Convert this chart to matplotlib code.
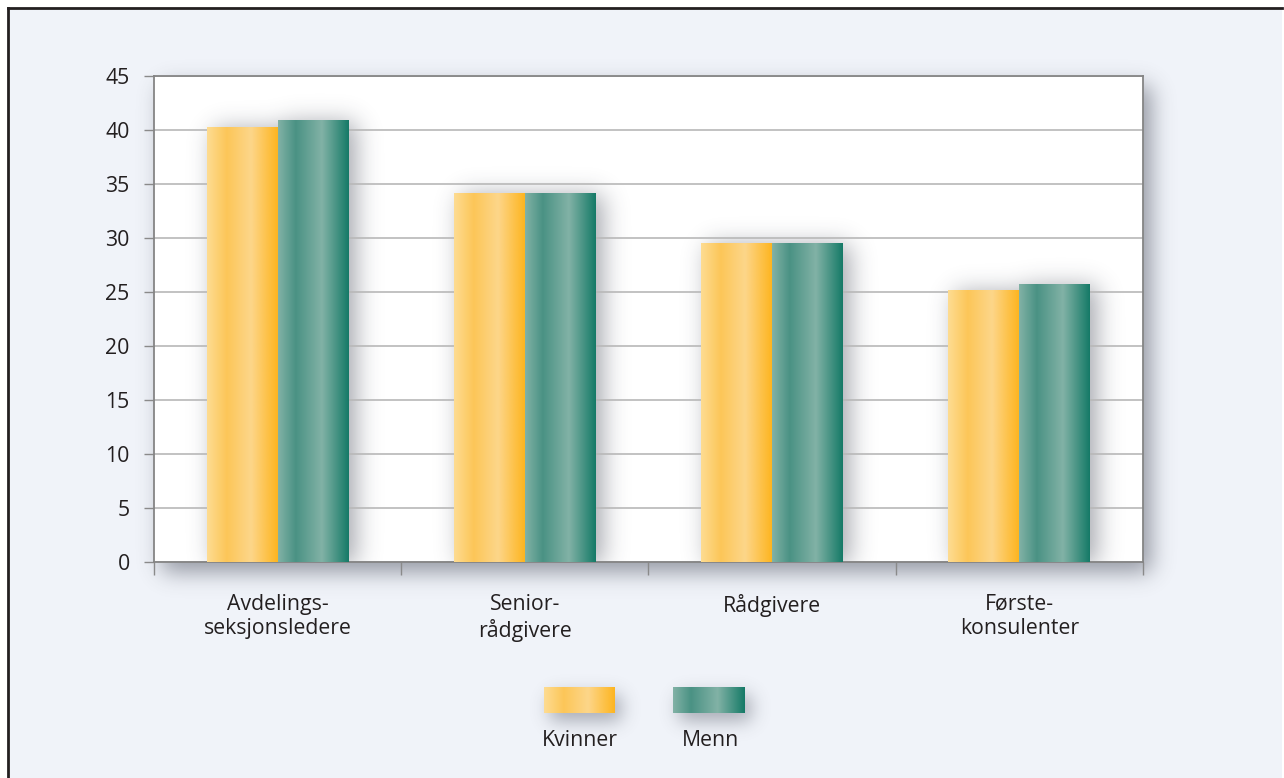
import numpy as np
import matplotlib
matplotlib.use('Agg')
import matplotlib.pyplot as plt
from matplotlib.colors import LinearSegmentedColormap
from matplotlib.patches import Rectangle

# ---------------- data ----------------
categories = ['Avdelings-\nseksjonsledere', 'Senior-\nrådgivere', 'Rådgivere', 'Første-\nkonsulenter']
kvinner = [40.3, 34.2, 29.5, 25.2]
menn = [40.9, 34.2, 29.5, 25.7]
series_names = ['Kvinner', 'Menn']
yticks = [0, 5, 10, 15, 20, 25, 30, 35, 40, 45]

# ---------------- style ----------------
plt.rcParams['font.family'] = ['Open Sans', 'DejaVu Sans']
TEXT = '#231f20'
BG = '#f0f3f9'
FS = 15.3
yellow_stops = [(0.0, '#fedc92'), (0.28, '#fcc658'), (0.62, '#fdd68a'), (1.0, '#fdb520')]
green_stops = [(0.0, '#82b2a6'), (0.25, '#4a9284'), (0.62, '#82b2a6'), (1.0, '#157a67')]
cmap_y = LinearSegmentedColormap.from_list('yel', yellow_stops)
cmap_g = LinearSegmentedColormap.from_list('grn', green_stops)
grad = np.linspace(0, 1, 256)[None, :]

W, H, DPI = 1284, 778, 100
fig = plt.figure(figsize=(W / DPI, H / DPI), dpi=DPI, facecolor='white')

# background axes in pixel coordinates
bg = fig.add_axes([0, 0, 1, 1], zorder=-10)
bg.set_xlim(0, W)
bg.set_ylim(H, 0)
bg.axis('off')
bg.add_patch(Rectangle((7.5, 7.5), 1282 - 7.5, H, facecolor=BG, edgecolor='none', zorder=0))
bg.plot([7.5, 7.5], [H + 5, 7.5], color='#231f20', lw=2.0, solid_capstyle='projecting', zorder=1)
bg.plot([7.5, 1282], [7.5, 7.5], color='#231f20', lw=2.0, solid_capstyle='projecting', zorder=1)

# main axes
L, R, T, B = 154, 1143, 76, 562
ax = fig.add_axes([L / W, 1 - B / H, (R - L) / W, (B - T) / H], zorder=1)
ax.set_facecolor('none')
ngroups = len(categories)
ax.set_xlim(-0.5, ngroups - 0.5)
ax.set_ylim(0, 45)
ax.set_yticks(yticks)
ax.set_yticklabels([str(v) for v in yticks], fontsize=FS, color=TEXT)
ax.tick_params(axis='y', length=7.5, width=1.0, color='#8a8a8a', pad=10)
ax.yaxis.grid(True, color='#b8b8b8', lw=1.2, zorder=1)
ax.set_axisbelow(True)
for s in ax.spines.values():
    s.set_color('#858585')
    s.set_linewidth(1.3)

xs = np.arange(ngroups)
ax.set_xticks(np.arange(ngroups + 1) - 0.5)
ax.set_xticklabels([])
ax.tick_params(axis='x', which='major', length=9, width=1.0, color='#8a8a8a')
ax.set_xticks(xs, minor=True)
ax.set_xticklabels(categories, minor=True, fontsize=FS, color=TEXT, linespacing=1.22)
ax.tick_params(axis='x', which='minor', length=0, pad=23)
for lab in ax.get_xticklabels(minor=True):
    lab.set_verticalalignment('top')

bw = 0.287
bars_k = ax.bar(xs - bw / 2, kvinner, width=bw, color='none', edgecolor='none', zorder=3)
bars_m = ax.bar(xs + bw / 2, menn, width=bw, color='none', edgecolor='none', zorder=3)
for bars, cm in ((bars_k, cmap_y), (bars_m, cmap_g)):
    for b in bars:
        x0, y0 = b.get_x(), b.get_y()
        im = ax.imshow(grad, cmap=cm, aspect='auto', extent=(x0, x0 + b.get_width(), y0, y0 + b.get_height()),
                       zorder=3.2, interpolation='bilinear')
        im.set_clip_path(b)
ax.set_xlim(-0.5, ngroups - 0.5)
ax.set_ylim(0, 45)

# ---------------- shadows ----------------
def gblur(img, sigma):
    pad = int(4 * sigma)
    P = np.pad(img, pad)
    fy = np.fft.fftfreq(P.shape[0])
    fx = np.fft.fftfreq(P.shape[1])
    G = np.exp(-2 * (np.pi * sigma) ** 2 * (fy[:, None] ** 2 + fx[None, :] ** 2))
    out = np.real(np.fft.ifft2(np.fft.fft2(P) * G))
    return out[pad:pad + img.shape[0], pad:pad + img.shape[1]]

def rect_mask(rects, dx, dy):
    m = np.zeros((H, W))
    for (x0, y0, x1, y1) in rects:
        a, b_ = int(round(y0 + dy)), int(round(y1 + dy))
        c, d = int(round(x0 + dx)), int(round(x1 + dx))
        m[max(a, 0):max(b_, 0), max(c, 0):max(d, 0)] = 1.0
    return m

def shadow_rgba(mask, sigma, alpha, color=(0.22, 0.24, 0.30)):
    s = gblur(mask, sigma)
    s = np.clip(s, 0, 1)
    img = np.zeros((H, W, 4))
    img[..., 0], img[..., 1], img[..., 2] = color
    img[..., 3] = s * alpha
    return img

# plot area shadow
pa = shadow_rgba(rect_mask([(L, T, R, B)], 8, 10), 11, 0.5)
bg.imshow(pa, extent=(0, W, H, 0), zorder=2, interpolation='bilinear')
bg.add_patch(Rectangle((L, T), R - L, B - T, facecolor='white', edgecolor='none', zorder=3))

# bar shadows
fig.canvas.draw()
rects = []
for b in list(bars_k) + list(bars_m):
    (dx0, dy0), (dx1, dy1) = ax.transData.transform([(b.get_x(), 0), (b.get_x() + b.get_width(), b.get_height())])
    rects.append((dx0, H - dy1, dx1, H - dy0))
bs = shadow_rgba(rect_mask(rects, 7, 2), 12, 0.45)
im = bg.imshow(bs, extent=(0, W, H, 0), zorder=4, interpolation='bilinear')
clip = Rectangle((L, T), R - L, B - T, transform=bg.transData)
im.set_clip_path(clip)

# legend
leg_items = [(544, 615, 580, cmap_y), (673, 745, 710, cmap_g)]
lrects = [(x0, 687, x1, 713) for (x0, x1, _, _) in leg_items]
ls = shadow_rgba(rect_mask(lrects, 6, 8), 9, 0.4)
bg.imshow(ls, extent=(0, W, H, 0), zorder=5, interpolation='bilinear')
for (x0, x1, cx, cm), name in zip(leg_items, series_names):
    bg.imshow(grad, cmap=cm, aspect='auto', extent=(x0, x1, 713, 687), zorder=6, interpolation='bilinear')
    bg.text(cx, 740, name, ha='center', va='center', fontsize=FS, color=TEXT, zorder=7)
bg.set_xlim(0, W)
bg.set_ylim(H, 0)

fig.savefig('out.png', dpi=DPI, facecolor='white')
